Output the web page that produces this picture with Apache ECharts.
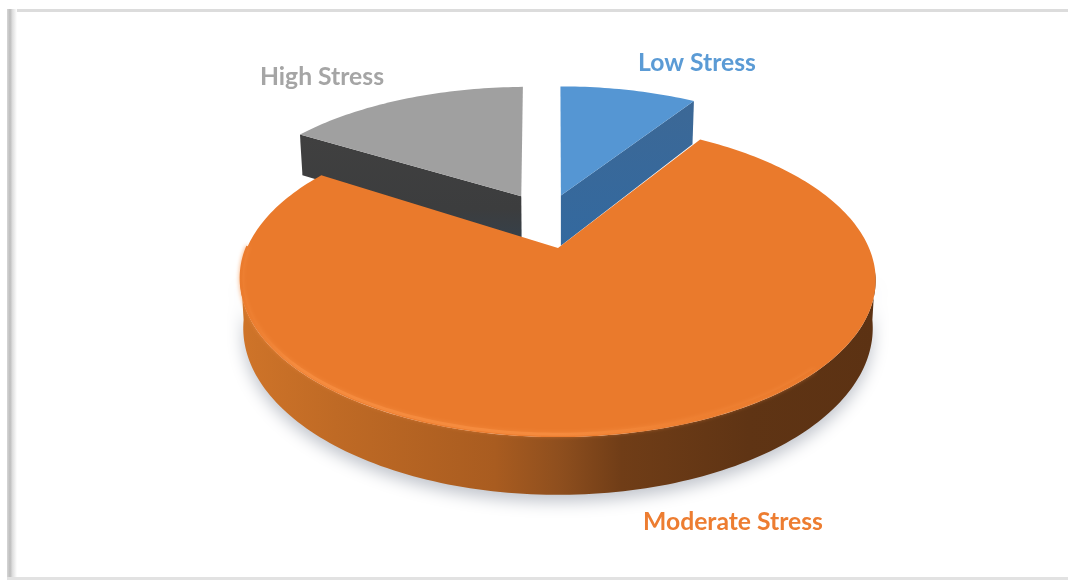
<!DOCTYPE html>
<html lang="en">
<head>
<meta charset="UTF-8">
<title>Stress levels</title>
<script src="https://cdn.jsdelivr.net/npm/echarts@6/dist/echarts.min.js"></script>
<style type="text/css">
	html,body{margin:0;padding:0;background:#fff;}
	#main{width:1068px;height:580px;}
</style>
</head>
<body>
<div id="main"></div>
<script type="text/javascript">
// data
var categories = ['Low Stress', 'Moderate Stress', 'High Stress'];
var stressValues = [9, 75, 16];

// look of each slice, same order as categories
var topColors = ['#5596d3', '#ea7a2c', '#a0a0a0'];
var labelColors = ['#5b9bd5', '#ed7d31', '#a5a5a5'];
var explode = [[0.01, -0.375], [0, 0], [-0.127, -0.37]];
var turn = [0, 0, -1];
var depths = [54, 46, 48];
var labelAt = [[697, 62], [733, 521], [322, 76]];
var sliceZ = [2, 5, 2];

// tilted disc: unit disc (u,v) to screen, v>0 comes toward the viewer
var cx = 558, cy = 248, R = 311, A = 150.5, P = 0.204;
function project(u, v, h){
	var s = 1 / (1 - P * v);
	return [cx + R * u * s * (1 - h * 0.0002), cy + A * v * s + h * s];
}

function arcPoints(from, to, off, h){
	var pts = [], n = Math.max(8, Math.round(Math.abs(to - from) / 0.02));
	for(var i = 0; i <= n; i++){
		var t = from + (to - from) * i / n;
		pts.push(project(Math.sin(t) + off[0], -Math.cos(t) + off[1], h));
	}
	return pts;
}

function poly(points, style, z2){
	return {type: 'polygon', z2: z2, silent: true, shape: {points: points}, style: style};
}

function hGrad(stops){
	return new echarts.graphic.LinearGradient(0, 0, 1, 0, stops);
}

var total = stressValues.reduce(function(a, b){return a + b;}, 0);
function startAngle(idx){
	var sum = 0;
	for(var i = 0; i < idx; i++){ sum += stressValues[i]; }
	return sum / total * Math.PI * 2;
}

function renderSlice(params, api){
	var idx = params.dataIndex;
	var a0 = startAngle(idx) + turn[idx] * Math.PI / 180;
	var a1 = a0 + api.value(0) / total * Math.PI * 2;
	var off = explode[idx];
	var h = depths[idx];
	var z = sliceZ[idx];
	var apexTop = project(off[0], off[1], 0), apexBot = project(off[0], off[1], h);
	var rimTop = arcPoints(a0, a1, off, 0);
	var rimBot = arcPoints(a0, a1, off, h);
	var first = rimTop[0], last = rimTop[rimTop.length - 1];
	var kids = [];

	if(idx === 1){
		// orange outer wall, with soft shadow underneath
		var front = arcPoints(Math.PI * 0.55, Math.PI * 1.45, off, 0);
		var frontBot = arcPoints(Math.PI * 0.55, Math.PI * 1.45, off, h);
		kids.push(poly(front.concat(frontBot.slice().reverse()), {
			fill: hGrad([
				{offset: 0, color: '#cf7429'},
				{offset: 0.15, color: '#bf6a25'},
				{offset: 0.4, color: '#a95c20'},
				{offset: 0.5, color: '#8f4f1e'},
				{offset: 0.6, color: '#703d17'},
				{offset: 0.8, color: '#5f3414'},
				{offset: 1, color: '#5c3213'}
			]),
			shadowColor: 'rgba(90,100,120,0.38)',
			shadowBlur: 16,
			shadowOffsetY: 7,
			shadowOffsetX: 0
		}, z));
	}else if(idx === 0){
		// blue: right cut face is the visible one
		kids.push(poly([apexTop, last, rimBot[rimBot.length - 1], apexBot], {
			fill: new echarts.graphic.LinearGradient(0, 0, 0, 1, [
				{offset: 0, color: '#3c6896'},
				{offset: 1, color: '#33699f'}
			])
		}, z));
	}else{
		// grey: left cut face
		kids.push(poly([apexTop, first, rimBot[0], apexBot], {
			fill: new echarts.graphic.LinearGradient(0, 0, 0, 1, [
				{offset: 0, color: '#404040'},
				{offset: 0.7, color: '#3c3d3e'},
				{offset: 1, color: '#35404a'}
			])
		}, z));
	}

	// top face
	kids.push(poly([apexTop].concat(rimTop), {fill: topColors[idx]}, z + 1));

	if(idx === 1){
		// bevel highlight on the front rim
		kids.push({
			type: 'polyline', z2: z + 2, silent: true,
			shape: {points: arcPoints(Math.PI * 0.75, Math.PI * 1.5, [0, -0.012], 0)},
			style: {
				fill: null,
				lineWidth: 3,
				shadowColor: 'rgba(245,139,62,0.8)',
				shadowBlur: 4,
				stroke: hGrad([
					{offset: 0, color: '#ea7a2c'},
					{offset: 0.1, color: '#f58b3e'},
					{offset: 0.55, color: '#f58b3e'},
					{offset: 0.8, color: '#ee7f30'},
					{offset: 1, color: '#ea7a2c'}
				])
			}
		});
	}

	kids.push({
		type: 'text', z2: 10, silent: true,
		style: {
			x: labelAt[idx][0], y: labelAt[idx][1] + 1,
			text: categories[idx],
			fill: labelColors[idx],
			font: 'bold 24.7px Lato, "Open Sans", sans-serif',
			align: 'center', verticalAlign: 'middle'
		}
	});

	return {type: 'group', children: kids};
}

var chart = echarts.init(document.getElementById('main'), null, {renderer: 'canvas'});
chart.setOption({
	backgroundColor: '#ffffff',
	animation: false,
	graphic: [
		// picture frame
		{type: 'rect', silent: true, shape: {x: 7, y: 9, width: 1061, height: 3}, style: {fill: '#dcdcdc'}},
		{type: 'rect', silent: true, shape: {x: 7, y: 9, width: 10, height: 571}, style: {
			fill: new echarts.graphic.LinearGradient(0, 0, 1, 0, [
				{offset: 0, color: '#d6d6d6'},
				{offset: 0.3, color: '#bcbcbc'},
				{offset: 0.55, color: '#dedede'},
				{offset: 1, color: '#ffffff'}
			])
		}},
		{type: 'rect', silent: true, shape: {x: 7, y: 577, width: 1061, height: 3}, style: {fill: '#e2e2e2'}}
	],
	series: [{
		type: 'custom',
		coordinateSystem: 'none',
		renderItem: renderSlice,
		data: stressValues.map(function(v, i){return {name: categories[i], value: [v]};})
	}]
});
</script>
</body>
</html>
